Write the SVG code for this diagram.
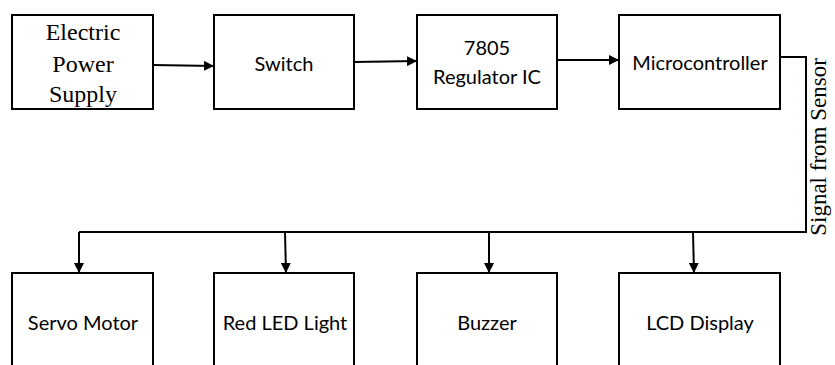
<svg xmlns="http://www.w3.org/2000/svg" width="835" height="365" viewBox="0 0 835 365">
<defs>
<marker id="ah" viewBox="0 0 10 10" refX="10" refY="5" markerWidth="10" markerHeight="10" markerUnits="userSpaceOnUse" orient="auto">
<path d="M0,0 L10,5 L0,10 Z" fill="#000"/>
</marker>
</defs>
<style>
.box{fill:#fff;stroke:#000;stroke-width:2}
.t{font-family:Lato,"Open Sans",sans-serif;font-size:20px;fill:#000;text-anchor:middle}
.s{font-family:"Liberation Serif","Times New Roman",serif;font-size:24px;fill:#000;text-anchor:middle}
.c{fill:none;stroke:#000;stroke-width:2}
</style>
<rect width="835" height="365" fill="#fff"/>
<g id="n-power"><rect class="box" x="12" y="15" width="141" height="94"/>
<text class="s" x="83" y="40">Electric</text><text class="s" x="83" y="72">Power</text><text class="s" x="83" y="102">Supply</text></g>
<g id="n-switch"><rect class="box" x="214" y="15" width="140" height="94"/><text class="t" x="284" y="71">Switch</text></g>
<g id="n-reg"><rect class="box" x="417" y="15" width="140" height="94"/><text class="t" x="487" y="55">7805</text><text class="t" x="487" y="84">Regulator IC</text></g>
<g id="n-mcu"><rect class="box" x="619" y="15" width="161" height="94"/><text class="t" x="700" y="70">Microcontroller</text></g>
<g id="n-servo"><rect class="box" x="12" y="273" width="141" height="100"/><text class="t" x="83" y="330">Servo Motor</text></g>
<g id="n-led"><rect class="box" x="214" y="273" width="140" height="100"/><text class="t" x="285" y="330">Red LED Light</text></g>
<g id="n-buzzer"><rect class="box" x="417" y="273" width="140" height="100"/><text class="t" x="487" y="330">Buzzer</text></g>
<g id="n-lcd"><rect class="box" x="619" y="273" width="161" height="100"/><text class="t" x="700" y="330">LCD Display</text></g>
<g id="connectors">
<line class="c" x1="153" y1="65" x2="214" y2="66" marker-end="url(#ah)"/>
<line class="c" x1="354" y1="62" x2="417" y2="61" marker-end="url(#ah)"/>
<line class="c" x1="557" y1="60" x2="619" y2="60" marker-end="url(#ah)"/>
<polyline class="c" points="780,57 806,57 806,232 79,232"/>
<line class="c" x1="79" y1="232" x2="79" y2="273" marker-end="url(#ah)"/>
<line class="c" x1="285" y1="232" x2="286" y2="273" marker-end="url(#ah)"/>
<line class="c" x1="489" y1="232" x2="489" y2="273" marker-end="url(#ah)"/>
<line class="c" x1="693" y1="232" x2="694" y2="273" marker-end="url(#ah)"/>
<text class="s" transform="translate(826,147) rotate(-90)" style="font-size:23px">Signal from Sensor</text>
</g>
</svg>
